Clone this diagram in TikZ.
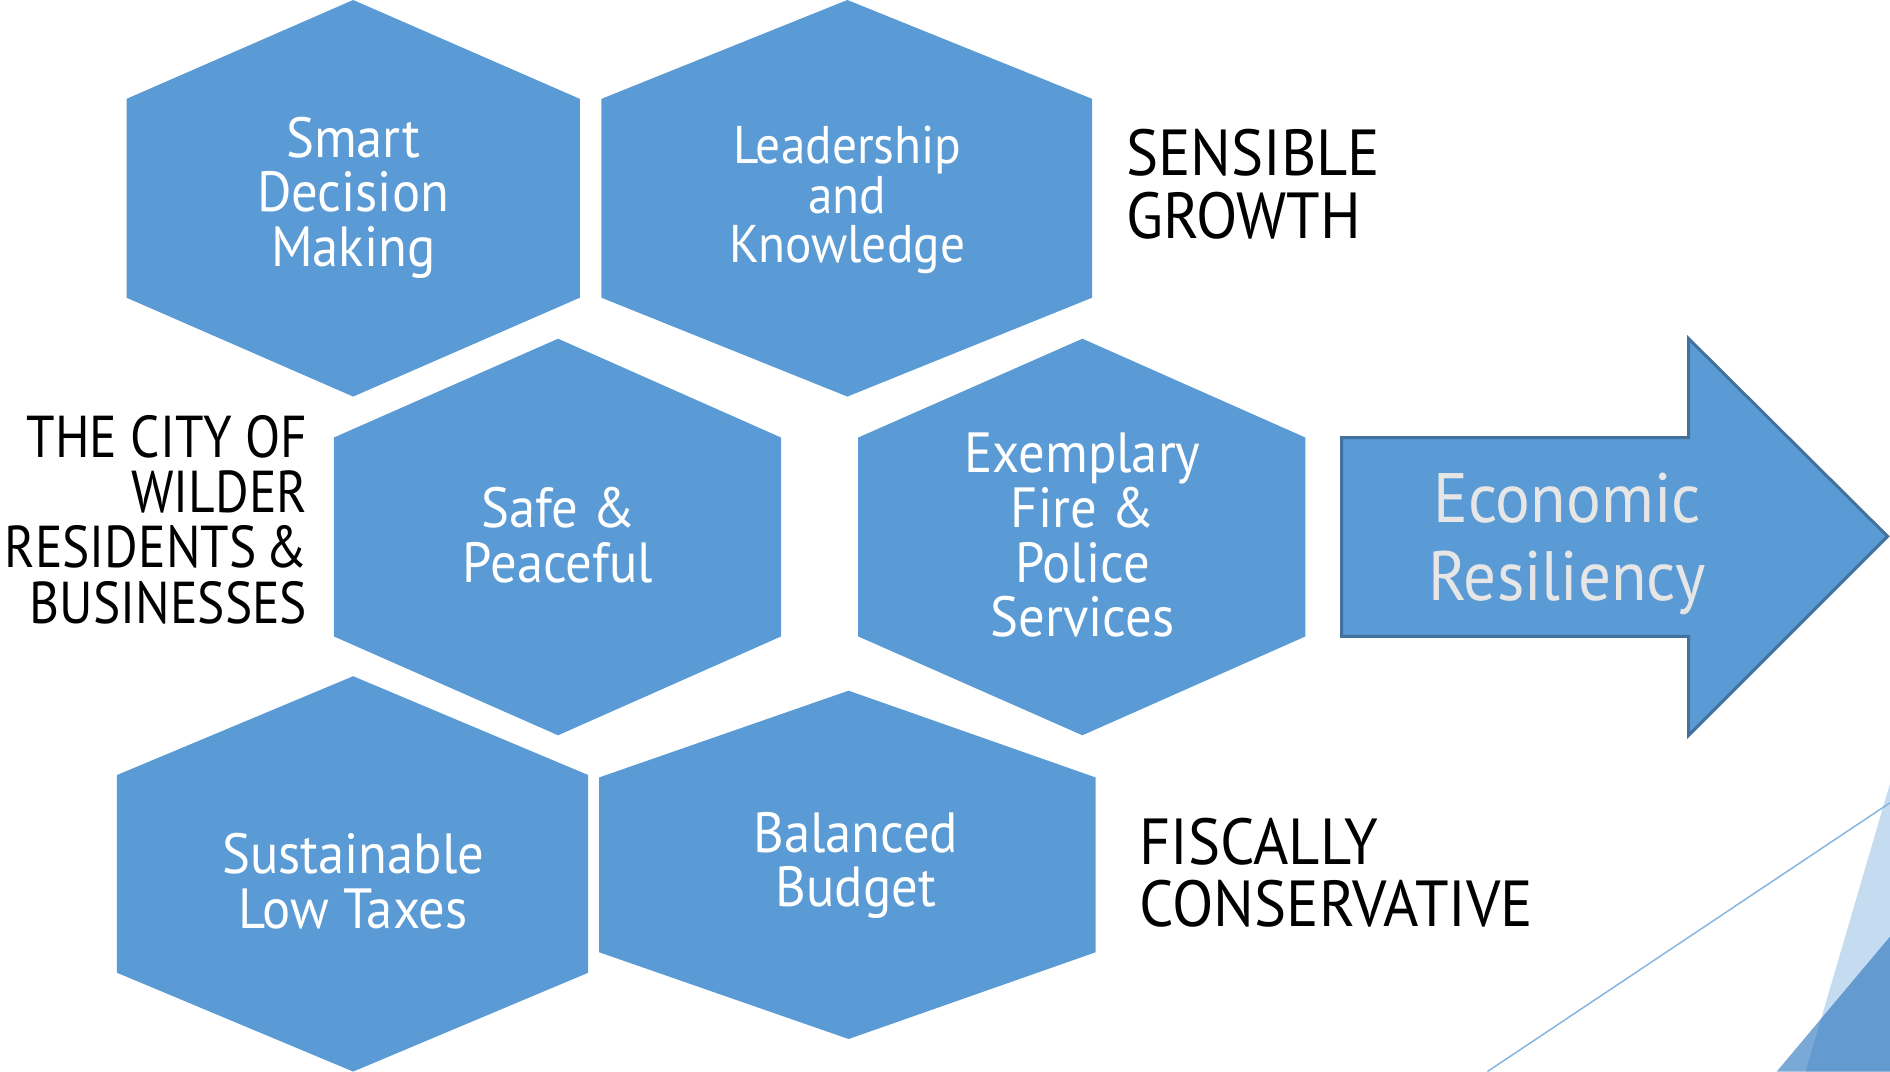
\documentclass[tikz,border=0pt]{standalone}
\usepackage{fontspec}
\setmainfont{PT Sans}[FakeStretch=0.93]
\newfontfamily\cityfont{PT Sans}[FakeStretch=0.87]
\definecolor{hexblue}{HTML}{5B9BD5}
\definecolor{arrowedge}{HTML}{41719C}
\definecolor{lightgrey}{HTML}{E7E6E6}
\definecolor{facetlight}{HTML}{C5DBEF}
\definecolor{facetline}{HTML}{82B4E2}
\definecolor{facetdark}{RGB}{40,115,190}
\begin{document}
\begin{tikzpicture}[x=1pt,y=-1pt,
  hexfill/.style={fill=hexblue},
  hextext/.style={text=white, align=center, inner sep=0pt, font=\fontsize{47}{45.5}\selectfont},
  sidetext/.style={text=black, inner sep=0pt, font=\fontsize{54}{52}\selectfont}]
\useasboundingbox (0,0) rectangle (1568,889);
% decorative facets
\fill[facetlight] (1568,650) -- (1568,889) -- (1498,889) -- cycle;
\fill[facetdark, fill opacity=0.62] (1474,889) -- (1568,777) -- (1568,889) -- cycle;
\draw[facetline, line width=1.2pt] (1234,889) -- (1568,666);
% hexagons
\fill[hexfill] (293,0) -- (481,82) -- (481,247) -- (293,329) -- (105,247) -- (105,82) -- cycle;
\fill[hexfill] (703,0) -- (906,82) -- (906,247) -- (703,329) -- (499,247) -- (499,82) -- cycle;
\fill[hexfill] (463,281) -- (648,363) -- (648,528) -- (463,610) -- (277,528) -- (277,363) -- cycle;
\fill[hexfill] (898,281) -- (1083,363) -- (1083,528) -- (898,610) -- (712,528) -- (712,363) -- cycle;
\fill[hexfill] (293,561) -- (488,643) -- (488,807) -- (293,889) -- (97,807) -- (97,643) -- cycle;
\fill[hexfill] (704,573) -- (909,645) -- (909,790) -- (704,862) -- (497,790) -- (497,645) -- cycle;
% arrow
\filldraw[fill=hexblue, draw=arrowedge, line width=2.5pt, line join=miter]
  (1113,363) -- (1401,363) -- (1401,281) -- (1566,445) -- (1401,610) -- (1401,528) -- (1113,528) -- cycle;
% hexagon texts
\node[hextext] (smart) at (293,164) {Smart\\Decision\\Making};
\node[hextext, font=\fontsize{44}{41}\selectfont] (lead) at (703,166) {Leadership\\and\\Knowledge};
\node[hextext] (safe) at (463,444) {Safe \&\\Peaceful};
\node[hextext] (exemp) at (898,444) {Exemplary\\Fire \&\\Police\\Services};
\node[hextext] (sust) at (293,731) {Sustainable\\Low Taxes};
\node[hextext] (bal) at (710,718) {Balanced\\Budget};
\node[hextext, text=lightgrey, font=\fontsize{58}{65}\selectfont] (econ) at (1300,451) {Economic\\Resiliency};
% side texts
\node[sidetext, anchor=west, align=left] (growth) at (934,153) {SENSIBLE\\GROWTH};
\node[sidetext, anchor=east, align=right, font=\cityfont\fontsize{49}{46}\selectfont] (city) at (255,431) {THE CITY OF\\WILDER\\RESIDENTS\hspace{0.15em}\&\\BUSINESSES};
\node[sidetext, anchor=west, align=left] (fiscal) at (945,724) {FISCALLY\\CONSERVATIVE};
\end{tikzpicture}
\end{document}
